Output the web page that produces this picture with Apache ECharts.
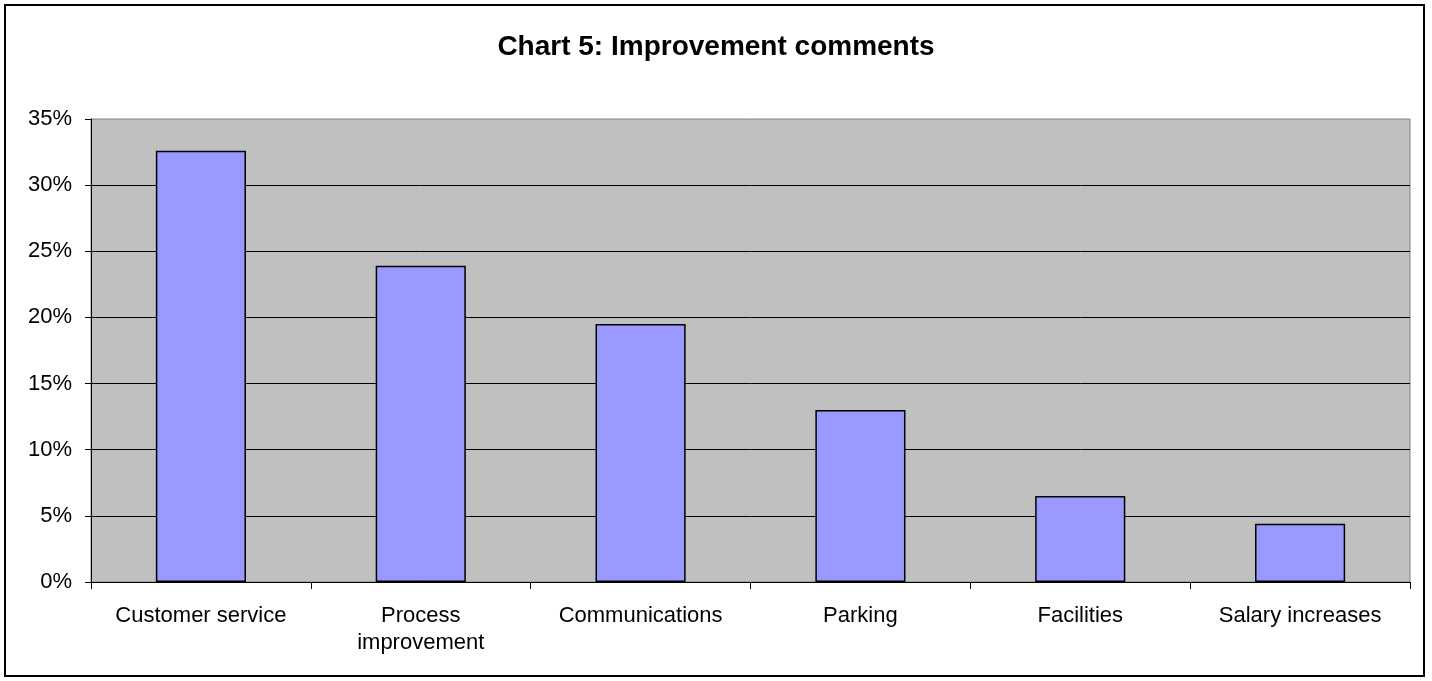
<!DOCTYPE html>
<html>
<head>
<meta charset="UTF-8">
<title>Chart 5: Improvement comments</title>
<script type="text/javascript" src="https://cdn.jsdelivr.net/npm/echarts@6/dist/echarts.min.js"></script>
<style>
  html, body { margin: 0; padding: 0; background: #fff; }
  #main { width: 1432px; height: 681px; }
</style>
</head>
<body>
<div id="main"></div>
<script type="text/javascript">
    // data
    var categories = ['Customer service', 'Process\nimprovement', 'Communications', 'Parking', 'Facilities', 'Salary increases'];
    var shares = [32.6, 23.9, 19.5, 13.0, 6.5, 4.4];
    var yTicks = [0, 5, 10, 15, 20, 25, 30, 35];

    var myChart = echarts.init(document.getElementById('main'));
    var font = 'Liberation Sans, Arial, sans-serif';

    var option = {
        animation: false,
        backgroundColor: '#fff',
        title: {
            text: 'Chart 5: Improvement comments',
            left: 'center',
            top: 28,
            textStyle: { fontFamily: font, fontSize: 28, fontWeight: 'bold', color: '#000' }
        },
        graphic: [{
            type: 'rect',
            shape: { x: 5, y: 5, width: 1419, height: 671 },
            style: { fill: 'none', stroke: '#000', lineWidth: 2 },
            silent: true
        }],
        grid: {
            left: 91,
            right: 22,
            top: 119,
            bottom: 99,
            show: true,
            backgroundColor: '#C0C0C0',
            borderColor: '#808080',
            borderWidth: 1
        },
        xAxis: {
            type: 'category',
            data: categories,
            axisLine: { lineStyle: { color: '#000', width: 1 } },
            axisTick: { show: true, length: 7, alignWithLabel: false, lineStyle: { color: '#000' } },
            axisLabel: { fontFamily: font, fontSize: 22, color: '#000', margin: 20, lineHeight: 27, interval: 0 }
        },
        yAxis: {
            type: 'value',
            min: yTicks[0],
            max: yTicks[yTicks.length - 1],
            interval: 5,
            axisLine: { show: true, lineStyle: { color: '#000', width: 1 } },
            axisTick: { show: true, length: 6, lineStyle: { color: '#000' } },
            axisLabel: { fontFamily: font, fontSize: 22, color: '#000', margin: 19, formatter: '{value}%' },
            splitLine: { show: true, showMaxLine: false, lineStyle: { color: '#000', width: 1 } }
        },
        series: [{
            type: 'bar',
            data: shares,
            barCategoryGap: '59%',
            itemStyle: { color: '#9999FF', borderColor: '#000', borderWidth: 1.5 }
        }]
    };

    myChart.setOption(option);
</script>
</body>
</html>
